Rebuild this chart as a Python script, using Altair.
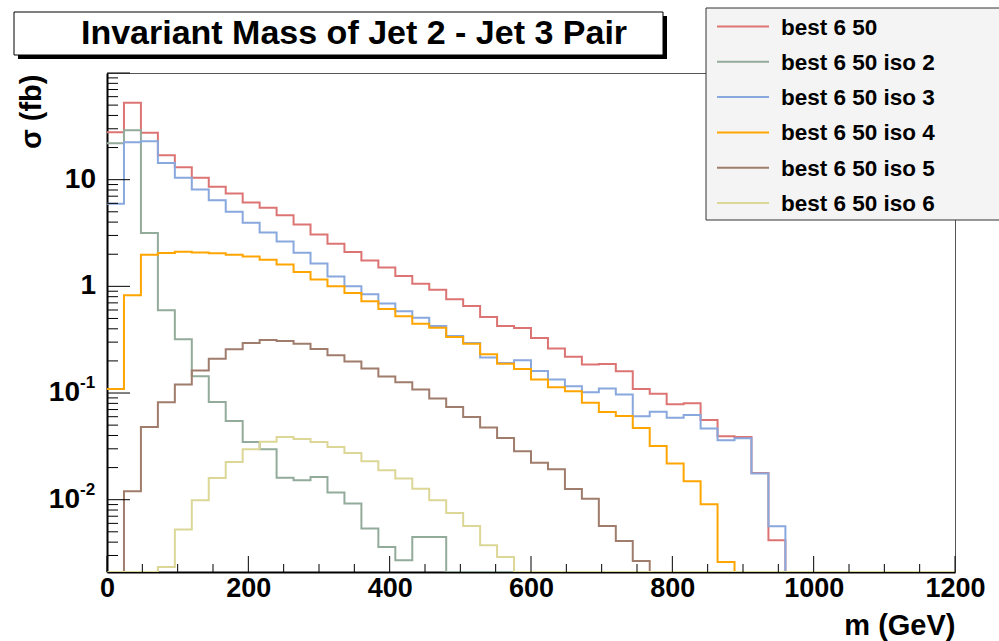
import altair as alt
import pandas as pd
import numpy as np

# ---------------- data ----------------
BIN_WIDTH = 24          # GeV, 50 bins from 0 to 1200
X_MAX = 1200
Y_MIN, Y_MAX = 0.0021, 100
X_TICK_MAJOR = [0, 200, 400, 600, 800, 1000, 1200]
Y_LABEL_VALUES = [10, 1, 0.1, 0.01]

labels = ["best 6 50", "best 6 50 iso 2", "best 6 50 iso 3",
          "best 6 50 iso 4", "best 6 50 iso 5", "best 6 50 iso 6"]
colors = ["#dd7474", "#93ab9b", "#88a8de", "#ffa500", "#a07c6d", "#dcd797"]

best = [27.9, 52.7, 27.6, 16.9, 13.1, 10.4, 8.6, 7.4, 6.1, 5.46,
        4.63, 3.81, 3.06, 2.51, 2.10, 1.75, 1.50, 1.25, 1.06, 0.93,
        0.755, 0.654, 0.515, 0.425, 0.407, 0.328, 0.261, 0.219, 0.185, 0.187,
        0.160, 0.109, 0.0987, 0.0783, 0.080, 0.056, 0.0393, 0.0387, 0.0178, 0.00417,
        0, 0, 0, 0, 0, 0, 0, 0, 0, 0]
iso2 = [22.0, 29.0, 3.16, 0.596, 0.319, 0.144, 0.0824, 0.0547, 0.0348, 0.0297,
        0.0161, 0.0152, 0.0163, 0.0117, 0.0092, 0.00536, 0.0036, 0.0027, 0.00448, 0.00448,
        0, 0, 0, 0, 0, 0, 0, 0, 0, 0,
        0, 0, 0, 0, 0, 0, 0, 0, 0, 0,
        0, 0, 0, 0, 0, 0, 0, 0, 0, 0]
iso3 = [5.96, 22.4, 22.9, 14.3, 10.4, 8.1, 6.4, 5.0, 3.95, 3.19,
        2.64, 2.07, 1.64, 1.24, 1.0, 0.841, 0.689, 0.583, 0.509, 0.425,
        0.342, 0.294, 0.215, 0.191, 0.203, 0.161, 0.134, 0.116, 0.1016, 0.110,
        0.097, 0.0605, 0.0669, 0.0588, 0.0622, 0.0464, 0.036, 0.0377, 0.0176, 0.00563,
        0, 0, 0, 0, 0, 0, 0, 0, 0, 0]
iso4 = [0.109, 0.823, 1.98, 2.05, 2.11, 2.08, 2.04, 1.98, 1.90, 1.78,
        1.60, 1.36, 1.16, 1.0, 0.866, 0.724, 0.613, 0.524, 0.447, 0.41,
        0.335, 0.29, 0.231, 0.188, 0.168, 0.134, 0.113, 0.104, 0.081, 0.0664,
        0.061, 0.047, 0.0319, 0.0218, 0.0149, 0.00906, 0.0026, 0, 0, 0,
        0, 0, 0, 0, 0, 0, 0, 0, 0, 0]
iso5 = [0, 0.012, 0.048, 0.0818, 0.12, 0.163, 0.21, 0.257, 0.294, 0.314,
        0.307, 0.29, 0.259, 0.226, 0.197, 0.17, 0.143, 0.126, 0.108, 0.089,
        0.074, 0.0596, 0.0474, 0.0379, 0.0284, 0.0222, 0.0193, 0.0126, 0.0102, 0.00566,
        0.0041, 0.00266, 0, 0, 0, 0, 0, 0, 0, 0,
        0, 0, 0, 0, 0, 0, 0, 0, 0, 0]
iso6 = [0, 0, 0, 0.00234, 0.00525, 0.00987, 0.016, 0.0226, 0.0297, 0.035,
        0.0387, 0.0371, 0.0348, 0.0312, 0.0274, 0.0229, 0.0189, 0.0158, 0.0127, 0.00987,
        0.0075, 0.00566, 0.00374, 0.0029, 0, 0, 0, 0, 0, 0,
        0, 0, 0, 0, 0, 0, 0, 0, 0, 0,
        0, 0, 0, 0, 0, 0, 0, 0, 0, 0]

series = [best, iso2, iso3, iso4, iso5, iso6]

# ---------------- build tables ----------------
FLOOR = 1e-4   # empty bins: drawn on the bottom edge (scale is clamped)
rows = []
for lab, vals in zip(labels, series):
    for i, v in enumerate(vals):
        rows.append({"series": lab, "m": i * BIN_WIDTH, "sigma": v if v > 0 else FLOOR})
    rows.append({"series": lab, "m": X_MAX, "sigma": vals[-1] if vals[-1] > 0 else FLOOR})
df = pd.DataFrame(rows)

FONT = "Liberation Sans"
W, H = 848, 499

xs = alt.Scale(domain=[0, X_MAX], nice=False, zero=False)
ys = alt.Scale(type="log", domain=[Y_MIN, Y_MAX], nice=False, clamp=True)

X_AX = alt.Axis(values=X_TICK_MAJOR, format="d", ticks=False, grid=False,
                labelFont=FONT, labelFontWeight="bold", labelFontSize=27,
                labelColor="black", labelPadding=3, labelFlush=False,
                domainColor="black", domainWidth=2,
                title="m (GeV)", titleFont=FONT, titleFontWeight="bold",
                titleFontSize=29, titleColor="black", titleAnchor="end",
                titleAlign="right", titleX=W, titleY=53, titleBaseline="middle")
Y_AX = alt.Axis(values=Y_LABEL_VALUES, labels=False, ticks=False, grid=False,
                domainColor="black", domainWidth=2,
                title="σ (fb)", titleFont=FONT, titleFontWeight="bold",
                titleFontSize=29, titleColor="black", titleAngle=270,
                titleAlign="right", titleBaseline="middle", titleX=-76, titleY=1)

one = pd.DataFrame({"a": [0]})

layers = []

# title box with shadow
layers.append(alt.Chart(one).mark_rect(color="black").encode(
    x=alt.value(-89), x2=alt.value(560), y=alt.value(-57), y2=alt.value(-14)))
layers.append(alt.Chart(one).mark_rect(fill="white", stroke="black", strokeWidth=1).encode(
    x=alt.value(-93), x2=alt.value(556), y=alt.value(-61), y2=alt.value(-18)))
layers.append(alt.Chart(one).mark_text(font=FONT, fontWeight="bold", fontSize=34,
                                       align="center", baseline="middle").encode(
    x=alt.value(247), y=alt.value(-39), text=alt.value("Invariant Mass of Jet 2 - Jet 3 Pair")))

# histogram step lines
for lab, col in zip(labels, colors):
    layers.append(
        alt.Chart(df[df.series == lab]).mark_line(
            interpolate="step-after", strokeWidth=2, color=col, clip=True
        ).encode(
            x=alt.X("m:Q", scale=xs, axis=X_AX),
            y=alt.Y("sigma:Q", scale=ys, axis=Y_AX),
        )
    )

# inward ticks (ROOT style)
y_major = [0.01, 0.1, 1, 10, 100]
y_minor = [m * 10.0 ** k for k in range(-3, 2) for m in range(2, 10)]
y_minor = [v for v in y_minor if Y_MIN <= v <= Y_MAX]
x_minor = [v for v in range(50, X_MAX, 50) if v % 200 != 0]

def yticks(vals, length):
    return alt.Chart(pd.DataFrame({"t": vals})).mark_rule(color="black", strokeWidth=1).encode(
        y=alt.Y("t:Q", scale=ys, axis=Y_AX), x=alt.value(0), x2=alt.value(length))

def xticks(vals, length):
    return alt.Chart(pd.DataFrame({"t": vals})).mark_rule(color="black", strokeWidth=1).encode(
        x=alt.X("t:Q", scale=xs, axis=X_AX), y=alt.value(H), y2=alt.value(H - length))

layers += [yticks(y_major, 23), yticks(y_minor, 11), xticks(X_TICK_MAJOR, 16), xticks(x_minor, 8)]

# y tick labels: 10, 1, 10^-1, 10^-2
lab_df = pd.DataFrame({"v": Y_LABEL_VALUES,
                       "base": ["10", "1", "10", "10"],
                       "exp": ["", "", "-1", "-2"]})
layers.append(alt.Chart(lab_df[lab_df.exp == ""]).mark_text(
    font=FONT, fontWeight="bold", fontSize=28, align="right", baseline="middle").encode(
    y=alt.Y("v:Q", scale=ys, axis=Y_AX), x=alt.value(-11), text="base:N"))
layers.append(alt.Chart(lab_df[lab_df.exp != ""]).mark_text(
    font=FONT, fontWeight="bold", fontSize=28, align="right", baseline="middle").encode(
    y=alt.Y("v:Q", scale=ys, axis=Y_AX), x=alt.value(-27), text="base:N"))
layers.append(alt.Chart(lab_df[lab_df.exp != ""]).mark_text(
    font=FONT, fontWeight="bold", fontSize=17, align="left", baseline="middle", dy=-10).encode(
    y=alt.Y("v:Q", scale=ys, axis=Y_AX), x=alt.value(-27), text="exp:N"))

# legend box
LEG_X0, LEG_Y0 = 599, -65
layers.append(alt.Chart(one).mark_rect(fill="#f4f4f4", stroke="#333333", strokeWidth=1).encode(
    x=alt.value(LEG_X0), x2=alt.value(LEG_X0 + 300), y=alt.value(LEG_Y0), y2=alt.value(147)))
ROW0, ROW_STEP = -46.5, 35.3
for i, (lab, col) in enumerate(zip(labels, colors)):
    yy = ROW0 + i * ROW_STEP
    layers.append(alt.Chart(one).mark_rule(color=col, strokeWidth=2).encode(
        x=alt.value(610), x2=alt.value(662), y=alt.value(yy)))
    layers.append(alt.Chart(one).mark_text(font=FONT, fontWeight="bold", fontSize=22.5,
                                           align="left", baseline="middle").encode(
        x=alt.value(674), y=alt.value(yy + 1), text=alt.value(lab)))

chart = alt.layer(*layers).properties(
    width=W, height=H,
    padding={"left": 107, "top": 73, "right": 44, "bottom": 69},
    autosize=alt.AutoSizeParams(type="none"),
    background="white",
).configure_view(stroke="#555555", strokeWidth=1)

chart.save("out.html", embed_options={"renderer": "svg", "actions": False})
